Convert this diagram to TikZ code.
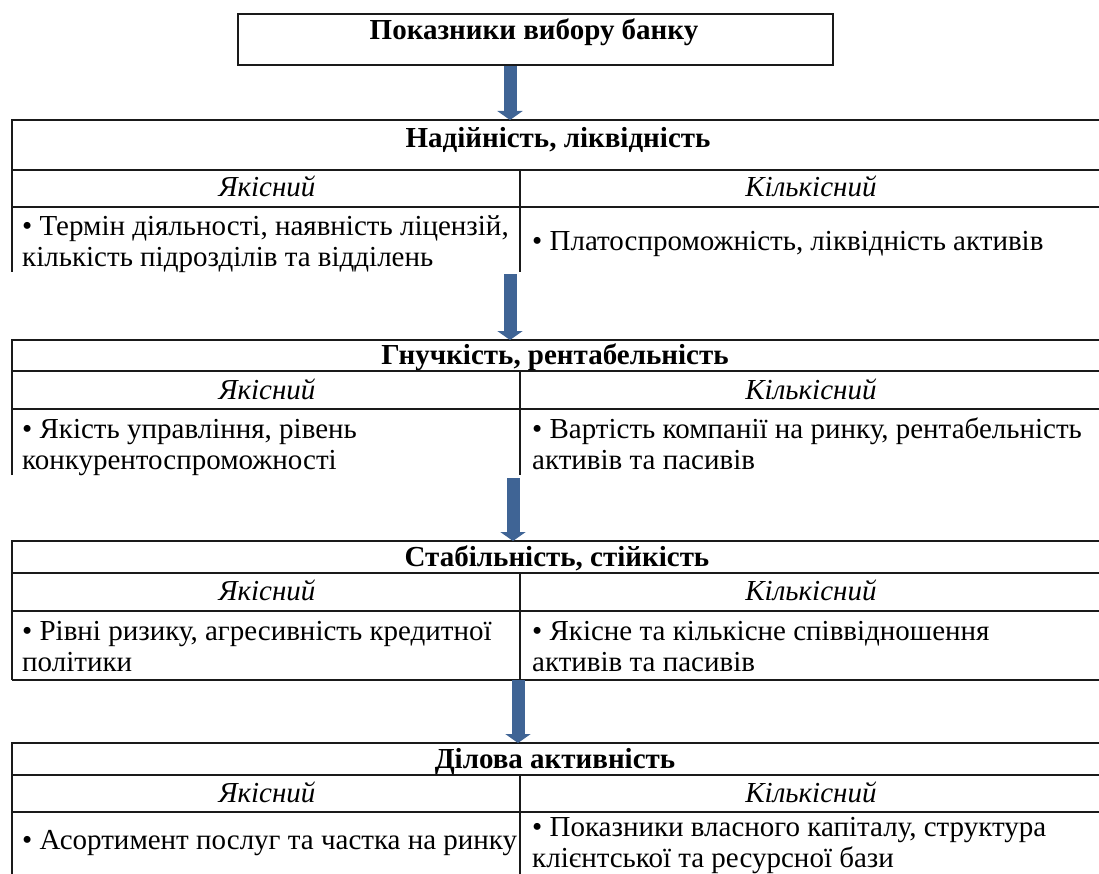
\documentclass[tikz,border=0pt]{standalone}
\usepackage{fontspec}
\setmainfont{Liberation Serif}
\usetikzlibrary{arrows.meta}
\definecolor{arr}{HTML}{3F6495}
\definecolor{ink}{HTML}{1A1A1A}
\begin{document}
\begin{tikzpicture}[x=1pt,y=-1pt,
  rule/.style={line width=1.8pt, draw=ink},
  ttl/.style={font=\fontsize{29}{31}\selectfont\bfseries, anchor=base, inner sep=0pt},
  hdr/.style={font=\fontsize{29}{31}\selectfont\itshape, anchor=base, inner sep=0pt},
  txt/.style={font=\fontsize{29}{31}\selectfont, anchor=base west, inner sep=0pt, align=left},
  cell/.style={anchor=north west, inner sep=0pt, minimum width=#1},
  bigarrow/.style={line width=13pt, draw=arr, -{Triangle[width=25pt,length=9pt]}}
]
\useasboundingbox (0,0) rectangle (1099,874);
\clip (0,0) rectangle (1099,874);

% top box
\node[rule, draw, anchor=north west, minimum width=595pt, minimum height=51pt, inner sep=0pt] (top) at (237,13) {};
\node[ttl] (toptxt) at (534,40) {Показники вибору банку};

% ---------- table 1
\node[cell=1100pt, minimum height=50pt] (t1) at (12,120) {};
\draw[rule] (12,272) -- (12,120) -- (1110,120);
\draw[rule] (12,170) -- (1110,170);
\draw[rule] (12,207) -- (1110,207);
\draw[rule] (520,170) -- (520,272);
\node[ttl] (t1ttl) at (558,148) {Надійність, ліквідність};
\node[hdr] (t1q) at (267,197) {Якісний};
\node[hdr] (t1k) at (811,197) {Кількісний};
\node[txt] (t1a) at (22,267) {• Термін діяльності, наявність ліцензій,\\кількість підрозділів та відділень};
\node[txt] (t1b) at (532,251) {• Платоспроможність, ліквідність активів};
\coordinate (t1end) at (12,274);

% ---------- table 2
\node[cell=1100pt, minimum height=31pt] (t2) at (12,340) {};
\draw[rule] (12,475) -- (12,340) -- (1110,340);
\draw[rule] (12,371) -- (1110,371);
\draw[rule] (12,409) -- (1110,409);
\draw[rule] (520,371) -- (520,475);
\node[ttl] (t2ttl) at (555,364) {Гнучкість, рентабельність};
\node[hdr] (t2q) at (267,399) {Якісний};
\node[hdr] (t2k) at (811,399) {Кількісний};
\node[txt] (t2a) at (22,469) {• Якість управління, рівень\\конкурентоспроможності};
\node[txt] (t2b) at (532,469) {• Вартість компанії на ринку, рентабельність\\активів та пасивів};
\coordinate (t2end) at (12,478);

% ---------- table 3
\node[cell=1100pt, minimum height=32pt] (t3) at (12,541) {};
\draw[rule] (12,680) -- (12,541) -- (1110,541);
\draw[rule] (12,573) -- (1110,573);
\draw[rule] (12,611) -- (1110,611);
\draw[rule] (12,680) -- (1110,680);
\draw[rule] (520,573) -- (520,680);
\node[ttl] (t3ttl) at (557,566) {Стабільність, стійкість};
\node[hdr] (t3q) at (267,600) {Якісний};
\node[hdr] (t3k) at (811,600) {Кількісний};
\node[txt] (t3a) at (22,671) {• Рівні ризику, агресивність кредитної\\політики};
\node[txt] (t3b) at (532,671) {• Якісне та кількісне співвідношення\\активів та пасивів};
\coordinate (t3end) at (12,680);

% ---------- table 4
\node[cell=1100pt, minimum height=32pt] (t4) at (12,743) {};
\draw[rule] (12,880) -- (12,743) -- (1110,743);
\draw[rule] (12,775) -- (1110,775);
\draw[rule] (12,812) -- (1110,812);
\draw[rule] (520,775) -- (520,880);
\node[ttl] (t4ttl) at (555,768) {Ділова активність};
\node[hdr] (t4q) at (267,802) {Якісний};
\node[hdr] (t4k) at (811,802) {Кількісний};
\node[txt] (t4a) at (22,849) {• Асортимент послуг та частка на ринку};
\node[txt] (t4b) at (532,867) {• Показники власного капіталу, структура\\клієнтської та ресурсної бази};

% ---------- arrows
\coordinate (x1) at (510,0);
\coordinate (x3) at (513,0);
\coordinate (x4) at (518,0);
\draw[bigarrow] (top.south -| x1) -- (t1.north -| x1);
\draw[bigarrow] (t1end -| x1) -- (t2.north -| x1);
\draw[bigarrow] (t2end -| x3) -- (t3.north -| x3);
\draw[bigarrow] (t3end -| x4) -- (t4.north -| x4);
\end{tikzpicture}
\end{document}
